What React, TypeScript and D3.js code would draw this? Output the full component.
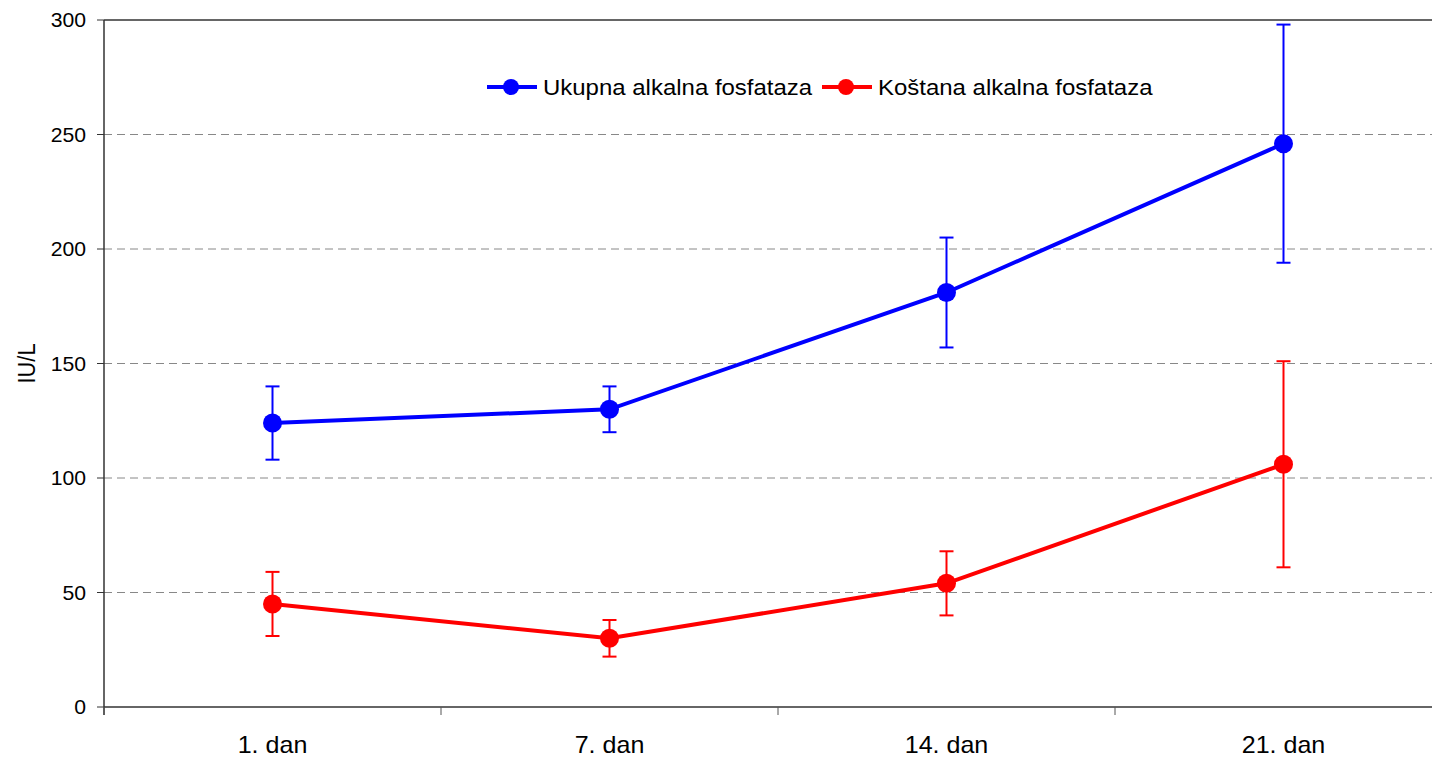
import React from "react";
import * as d3 from "d3";

const categories = ["1. dan", "7. dan", "14. dan", "21. dan"];
const ukupna = [124, 130, 181, 246];
const ukupnaErr = [16, 10, 24, 52];
const kostana = [45, 30, 54, 106];
const kostanaErr = [14, 8, 14, 45];
const yTicks = [0, 50, 100, 150, 200, 250, 300];
const seriesNames = ["Ukupna alkalna fosfataza", "Koštana alkalna fosfataza"];

const W = 1432, H = 759;
const left = 104, top = 20, bottom = 707, right = 1452;
const font = "Liberation Sans, Arial, sans-serif";
const SX = 1.09;

export default function App() {
  const x = d3.scaleBand<string>().domain(categories).range([left, right]);
  const y = d3.scaleLinear().domain([0, 300]).range([bottom, top]);
  const cx = (c: string) => (x(c) as number) + x.bandwidth() / 2;
  const line = d3.line<number>().x((_, i) => cx(categories[i])).y((v) => y(v));

  const series = [
    { name: seriesNames[0], vals: ukupna, err: ukupnaErr, color: "#0000FF" },
    { name: seriesNames[1], vals: kostana, err: kostanaErr, color: "#FF0000" },
  ];
  const boundaries = [...categories.map((c) => x(c) as number), right];

  return (
    <svg width={W} height={H} style={{ position: "absolute", left: 0, top: 0, background: "#fff" }} fontFamily={font}>
      {yTicks.map((t) => (
        <g key={t}>
          {t > 0 && (
            <line x1={left} x2={right} y1={y(t)} y2={y(t)} stroke={t === 300 ? "#666" : "#888"} strokeWidth={t === 300 ? 2 : 1} strokeDasharray={t === 300 ? "" : "8,5"} />
          )}
          <line x1={left - 7} x2={left} y1={y(t)} y2={y(t)} stroke="#333" strokeWidth={1} />
          <text transform={`translate(${left - 18},${y(t)}) scale(1.06,1)`} dy="0.36em" textAnchor="end" fontSize={20} fill="#000">{t}</text>
        </g>
      ))}
      <line x1={left} x2={left} y1={top} y2={bottom + 8} stroke="#333" strokeWidth={1.5} />
      <line x1={left} x2={right} y1={bottom} y2={bottom} stroke="#333" strokeWidth={1.5} />
      {boundaries.map((b, i) => (
        <line key={i} x1={b} x2={b} y1={bottom} y2={bottom + 8} stroke="#555" strokeWidth={1} />
      ))}
      {categories.map((c) => (
        <text key={c} transform={`translate(${cx(c)},753) scale(${SX},1)`} textAnchor="middle" fontSize={23} fill="#000">{c}</text>
      ))}
      <text transform={`translate(35,${y(150)}) rotate(-90) scale(0.95,1.05)`} textAnchor="middle" fontSize={23} fill="#000">IU/L</text>

      {series.map((s) => (
        <g key={s.name}>
          {s.vals.map((v, i) => {
            const px = cx(categories[i]);
            return (
              <g key={i} stroke={s.color} strokeWidth={2}>
                <line x1={px} x2={px} y1={y(v + s.err[i])} y2={y(v - s.err[i])} />
                <line x1={px - 7} x2={px + 7} y1={y(v + s.err[i])} y2={y(v + s.err[i])} />
                <line x1={px - 7} x2={px + 7} y1={y(v - s.err[i])} y2={y(v - s.err[i])} />
              </g>
            );
          })}
          <path d={line(s.vals) as string} fill="none" stroke={s.color} strokeWidth={4} />
          {s.vals.map((v, i) => (
            <circle key={i} cx={cx(categories[i])} cy={y(v)} r={9.5} fill={s.color} />
          ))}
        </g>
      ))}

      {series.map((s, i) => {
        const x0 = i === 0 ? 487 : 822;
        return (
          <g key={s.name}>
            <line x1={x0} x2={x0 + 50} y1={87} y2={87} stroke={s.color} strokeWidth={4} />
            <circle cx={x0 + 24} cy={87} r={8} fill={s.color} />
            <text transform={`translate(${x0 + 56},87) scale(${SX},1)`} dy="0.36em" fontSize={22} fill="#000">{s.name}</text>
          </g>
        );
      })}
    </svg>
  );
}
